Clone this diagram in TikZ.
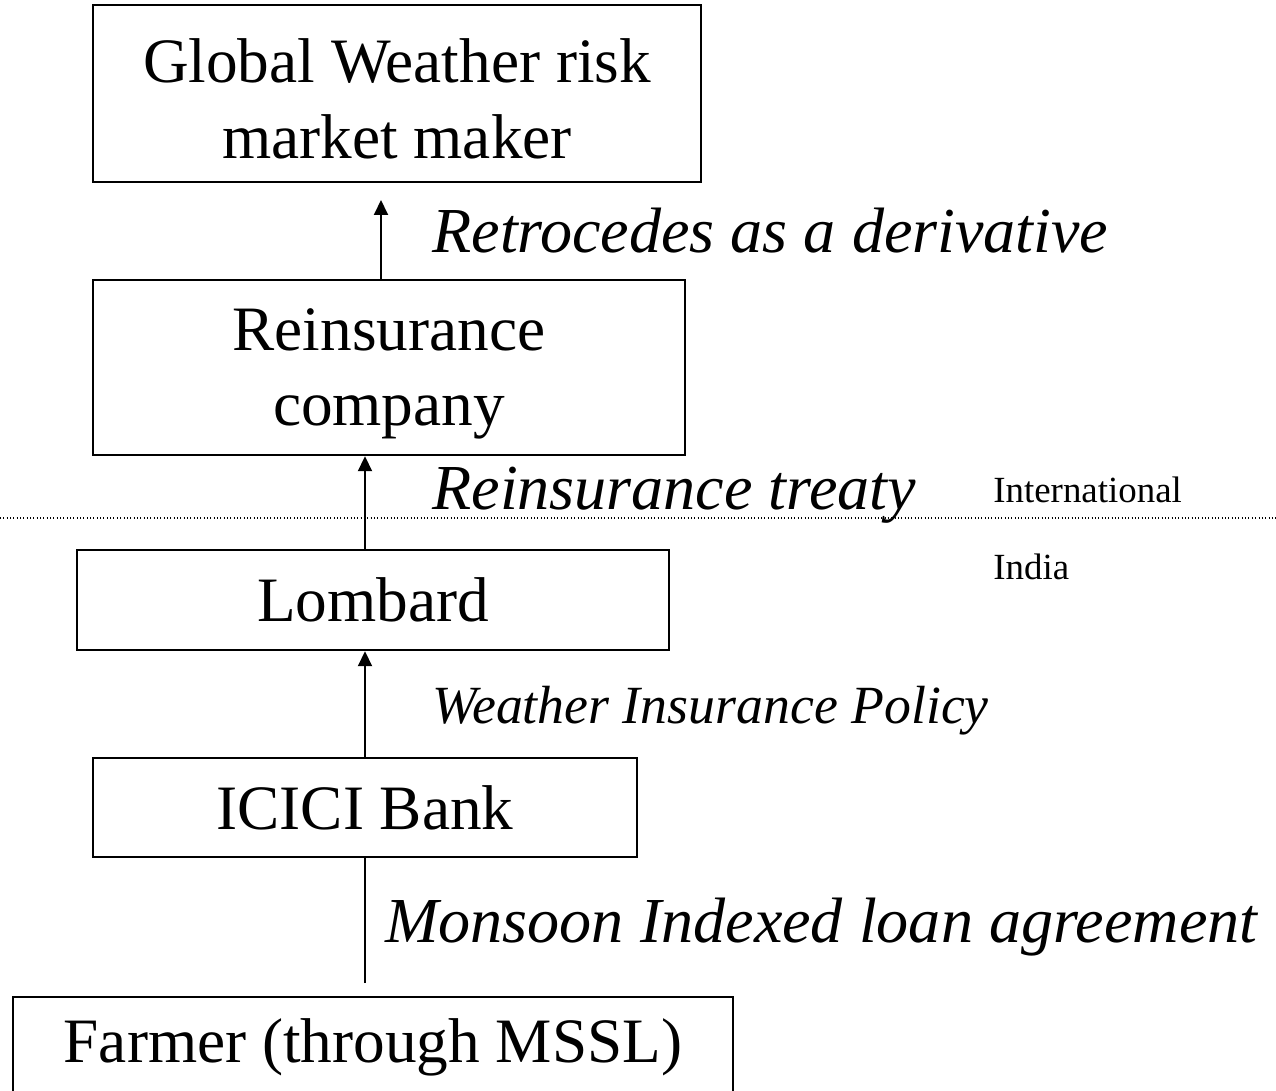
\documentclass[tikz,border=0pt]{standalone}
\usepackage{fontspec}
\setmainfont{Liberation Serif}
\usetikzlibrary{arrows.meta}

\begin{document}
\begin{tikzpicture}[
	x=0.02cm, y=-0.02cm,
	boxnode/.style={rectangle, draw=black, line width=1.4pt, inner sep=0pt, align=center,
		font=\fontsize{36}{43}\selectfont},
	biglabel/.style={anchor=base west, inner sep=0pt, font=\fontsize{36.5}{43}\selectfont\itshape},
	midlabel/.style={anchor=base west, inner sep=0pt, font=\fontsize{30.6}{36}\selectfont\itshape},
	smalllabel/.style={anchor=base west, inner sep=0pt, font=\fontsize{21}{25}\selectfont},
	flow/.style={line width=1.1pt, -{Triangle[length=0.3cm, width=0.28cm]}},
	]
	\useasboundingbox (0,0) rectangle (1276,1091);
	%Nodes
	\node[boxnode, minimum width=12.16cm, minimum height=3.54cm] (global) at (397,93.5) {\rule{0pt}{1.1cm}Global Weather risk\\market maker};
	\node[boxnode, minimum width=11.84cm, minimum height=3.5cm]  (reins)  at (389,367.5) {\rule{0pt}{1.1cm}Reinsurance\\company};
	\node[boxnode, minimum width=11.84cm, minimum height=2cm]    (lombard) at (373,600) {Lombard};
	\node[boxnode, minimum width=10.88cm, minimum height=1.98cm] (icici)  at (365,807.5) {ICICI Bank};
	\node[boxnode, minimum width=14.4cm, minimum height=2cm]     (farmer) at (373,1047) {Farmer (through MSSL)};
	\coordinate (retroTip)  at (381,200);
	\coordinate (retroBase) at (381,280);
	\coordinate (loanStart) at (365,983);
	\coordinate (borderW)   at (0,518);
	\coordinate (borderE)   at (1276,518);
	
	\node[biglabel]   (retroLbl)  at (432,253) {Retrocedes as a derivative};
	\node[biglabel]   (treatyLbl) at (432,510) {Reinsurance treaty};
	\node[smalllabel] (intlLbl)   at (993,502) {International};
	\node[smalllabel] (indiaLbl)  at (993,580) {India};
	\node[midlabel]   (policyLbl) at (432,723) {Weather Insurance Policy};
	\node[biglabel]   (loanLbl)   at (385,942) {Monsoon Indexed loan agreement};
	
	%Lines
	\draw[line width=0.7pt, dash pattern=on 0.5pt off 1.4pt] (borderW) -- (borderE);
	\draw[flow] (retroBase) -- (retroTip);
	\draw[flow] (lombard.north -| icici.north) -- (reins.south -| icici.north);
	\draw[flow] (icici.north) -- (lombard.south -| icici.north);
	\draw[line width=1.1pt] (loanStart) -- (icici.south);
\end{tikzpicture}
\end{document}
